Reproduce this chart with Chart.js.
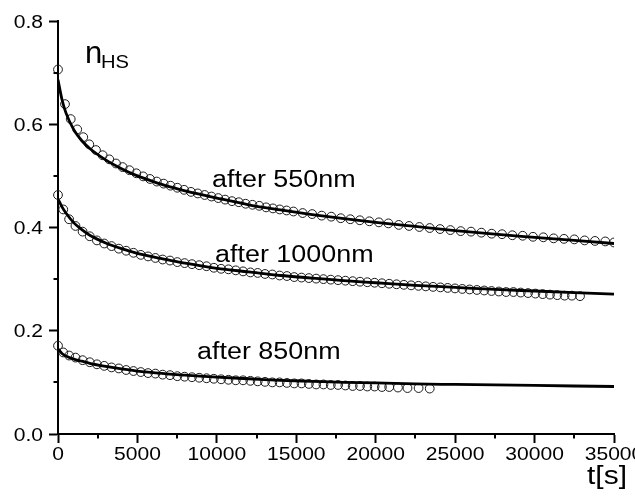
<!DOCTYPE html>
<html>
<head>
<meta charset="utf-8">
<script src="https://cdn.jsdelivr.net/npm/chart.js@4/dist/chart.umd.min.js"></script>
<style>
  html, body { margin: 0; padding: 0; background: #fff; }
  #wrap { width: 635px; height: 504px; }
</style>
</head>
<body>
<div id="wrap"><canvas id="c" width="635" height="504"></canvas></div>
<script>
// ── Data ──────────────────────────────────────────────────────────────────────
const t550 = [0, 440, 800, 1210, 1590, 1970, 2390, 2810, 3230, 3650, 4070, 4500, 4930, 5360, 5790, 6220, 6650, 7080, 7510, 7940, 8370, 8800, 9230, 9660, 10090, 10520, 10950, 11380, 11810, 12240, 12670, 13100, 13530, 13960, 14390, 14820, 15400, 16000, 16600, 17200, 17800, 18400, 19000, 19600, 20200, 20800, 21450, 22100, 22750, 23400, 24050, 24700, 25350, 26000, 26650, 27300, 27950, 28600, 29250, 29900, 30550, 31200, 31850, 32500, 33150, 33800, 34450, 35000];
const n550 = [0.706, 0.639, 0.610, 0.590, 0.575, 0.561, 0.550, 0.540, 0.532, 0.524, 0.517, 0.511, 0.505, 0.499, 0.494, 0.489, 0.485, 0.481, 0.477, 0.473, 0.469, 0.466, 0.463, 0.460, 0.457, 0.454, 0.451, 0.449, 0.446, 0.444, 0.442, 0.439, 0.437, 0.435, 0.433, 0.431, 0.428, 0.426, 0.423, 0.421, 0.418, 0.416, 0.414, 0.412, 0.410, 0.408, 0.405, 0.403, 0.401, 0.399, 0.397, 0.395, 0.393, 0.392, 0.390, 0.388, 0.387, 0.385, 0.384, 0.382, 0.381, 0.379, 0.378, 0.377, 0.375, 0.374, 0.373, 0.371];

const t1000 = [0, 330, 700, 1100, 1550, 2000, 2450, 2910, 3370, 3830, 4290, 4750, 5210, 5670, 6130, 6590, 7050, 7510, 7970, 8430, 8890, 9350, 9810, 10270, 10730, 11190, 11650, 12110, 12570, 13030, 13490, 13950, 14410, 14870, 15330, 15790, 16250, 16710, 17170, 17630, 18090, 18550, 19010, 19470, 19930, 20390, 20850, 21310, 21770, 22230, 22690, 23150, 23610, 24070, 24530, 24990, 25450, 25910, 26370, 26830, 27290, 27750, 28210, 28670, 29130, 29590, 30050, 30510, 30970, 31430, 31890, 32350, 32860];
const n1000 = [0.463, 0.435, 0.416, 0.403, 0.392, 0.383, 0.375, 0.369, 0.364, 0.359, 0.355, 0.351, 0.347, 0.344, 0.341, 0.338, 0.336, 0.333, 0.331, 0.329, 0.327, 0.325, 0.322, 0.320, 0.319, 0.317, 0.315, 0.313, 0.312, 0.310, 0.309, 0.307, 0.306, 0.304, 0.303, 0.302, 0.301, 0.300, 0.299, 0.298, 0.297, 0.296, 0.295, 0.294, 0.293, 0.292, 0.291, 0.290, 0.289, 0.288, 0.287, 0.286, 0.285, 0.284, 0.283, 0.282, 0.281, 0.280, 0.279, 0.278, 0.277, 0.276, 0.275, 0.275, 0.274, 0.273, 0.272, 0.271, 0.270, 0.269, 0.268, 0.268, 0.267];

const t850 = [0, 330, 700, 1100, 1550, 2000, 2450, 2910, 3370, 3830, 4290, 4750, 5210, 5670, 6130, 6590, 7050, 7510, 7970, 8430, 8890, 9350, 9810, 10270, 10730, 11190, 11650, 12110, 12570, 13030, 13490, 13950, 14410, 14870, 15330, 15790, 16250, 16710, 17170, 17630, 18090, 18550, 19010, 19470, 19930, 20390, 20850, 21400, 22000, 22700, 23400];
const n850 = [0.171, 0.158, 0.152, 0.148, 0.143, 0.139, 0.135, 0.132, 0.129, 0.127, 0.124, 0.122, 0.120, 0.118, 0.117, 0.115, 0.114, 0.112, 0.111, 0.110, 0.109, 0.108, 0.107, 0.106, 0.105, 0.104, 0.104, 0.103, 0.102, 0.101, 0.100, 0.100, 0.099, 0.098, 0.098, 0.097, 0.096, 0.096, 0.095, 0.095, 0.094, 0.093, 0.093, 0.092, 0.092, 0.091, 0.091, 0.090, 0.089, 0.089, 0.088];

// fitted curves
const tFit = [0, 250, 500, 1000, 1500, 2000, 3000, 4000, 5000, 6000, 7000, 8000, 10000, 12000, 14000, 16000, 18000, 20000, 22500, 25000, 27500, 30000, 32500, 35000];
const fit550 = [0.686, 0.648, 0.622, 0.589, 0.568, 0.553, 0.531, 0.514, 0.500, 0.489, 0.479, 0.471, 0.457, 0.444, 0.434, 0.425, 0.417, 0.410, 0.402, 0.394, 0.387, 0.381, 0.375, 0.369];
const fit1000 = [0.455, 0.440, 0.428, 0.409, 0.396, 0.385, 0.370, 0.359, 0.350, 0.343, 0.337, 0.331, 0.321, 0.314, 0.307, 0.302, 0.297, 0.293, 0.288, 0.284, 0.280, 0.277, 0.274, 0.271];
const fit850 = [0.165, 0.156, 0.151, 0.145, 0.141, 0.137, 0.131, 0.126, 0.122, 0.119, 0.116, 0.114, 0.110, 0.107, 0.104, 0.102, 0.100, 0.099, 0.097, 0.096, 0.095, 0.094, 0.093, 0.092];

const curveLabels = ['after 550nm', 'after 1000nm', 'after 850nm'];
const xTitle = 't[s]';

// ── Helpers ───────────────────────────────────────────────────────────────────
const FONT = 'Arial, "Liberation Sans", sans-serif';
const SX = 1.17; // the original lettering is a bit wider than Arial
const pts = (xs, ys) => xs.map((x, i) => ({ x, y: ys[i] }));

function circles(xs, ys) {
  return {
    type: 'scatter', data: pts(xs, ys), showLine: false, order: 2,
    pointRadius: 4.4, pointBorderWidth: 1, pointBorderColor: '#1a1a1a',
    pointBackgroundColor: 'rgba(0,0,0,0)', clip: { left: 6, top: 6, right: 0, bottom: 0 },
  };
}
function fitLine(ys) {
  return {
    type: 'line', data: pts(tFit, ys), showLine: true, order: 1,
    borderColor: '#000', borderWidth: 2.8, pointRadius: 0,
    cubicInterpolationMode: 'monotone', fill: false,
  };
}

// horizontally stretched text; align 'left' | 'center' | 'right'
function text(ctx, str, x, y, size, sx, align = 'left') {
  ctx.save();
  ctx.font = `${size}px ${FONT}`;
  const w = ctx.measureText(str).width * sx;
  const x0 = align === 'center' ? x - w / 2 : align === 'right' ? x - w : x;
  ctx.translate(x0, y);
  ctx.scale(sx, 1);
  ctx.fillStyle = '#000';
  ctx.textBaseline = 'alphabetic';
  ctx.textAlign = 'left';
  ctx.fillText(str, 0, 0);
  ctx.restore();
}

const decor = {
  id: 'decor',
  afterDraw(chart) {
    const { ctx, scales: { x, y } } = chart;
    ctx.save();
    ctx.strokeStyle = '#000';
    ctx.lineWidth = 2;
    // minor ticks
    [0.1, 0.3, 0.5, 0.7].forEach(v => {
      const py = Math.round(y.getPixelForValue(v));
      ctx.beginPath(); ctx.moveTo(y.right - 4.5, py); ctx.lineTo(y.right, py); ctx.stroke();
    });
    [2500, 7500, 12500, 17500, 22500, 27500, 32500].forEach(v => {
      const px = Math.round(x.getPixelForValue(v));
      ctx.beginPath(); ctx.moveTo(px, x.top); ctx.lineTo(px, x.top + 4.5); ctx.stroke();
    });
    ctx.restore();

    // tick labels
    y.ticks.forEach((t, i) => {
      if (t.label) text(ctx, t.label, y.right - 15, y.getPixelForTick(i) + 6.5, 18, SX, 'right');
    });
    x.ticks.forEach((t, i) => {
      if (t.label) text(ctx, t.label, x.getPixelForTick(i), x.top + 26, 18, SX, 'center');
    });

    text(ctx, 'n', 85, 63, 31, 1.0);
    text(ctx, 'HS', 101, 68, 18, 1.12);
    text(ctx, curveLabels[0], 212, 187, 23, SX);
    text(ctx, curveLabels[1], 215, 262, 23, SX);
    text(ctx, curveLabels[2], 197, 359, 23, SX);
    text(ctx, xTitle, 627, 484, 25, 1.2, 'right');
  },
};

// ── Chart ─────────────────────────────────────────────────────────────────────
Chart.defaults.font.family = FONT;
Chart.defaults.color = '#000';

new Chart(document.getElementById('c'), {
  type: 'scatter',
  data: {
    datasets: [
      fitLine(fit550), fitLine(fit1000), fitLine(fit850),
      circles(t550, n550), circles(t1000, n1000), circles(t850, n850),
    ],
  },
  options: {
    responsive: false,
    animation: false,
    layout: { padding: { top: 21, right: 21, left: 0, bottom: 0 } },
    plugins: { legend: { display: false }, tooltip: { enabled: false } },
    scales: {
      x: {
        type: 'linear', min: 0, max: 35000,
        afterFit(s) { s.height = 70; s.paddingLeft = 0; s.paddingRight = 0; },
        ticks: {
          stepSize: 2500, autoSkip: false, maxRotation: 0, padding: 3,
          font: { size: 18 }, color: 'rgba(0,0,0,0)',
          callback: v => (Math.round(v) % 5000 === 0 ? String(Math.round(v)) : ''),
        },
        grid: {
          drawOnChartArea: false, tickLength: 9, tickWidth: 2,
          tickColor: c => (c.tick && Math.round(c.tick.value) % 5000 === 0 ? '#000' : 'rgba(0,0,0,0)'),
        },
        border: { color: '#000', width: 2 },
      },
      y: {
        min: 0, max: 0.8,
        afterFit(s) { s.width = 58; s.paddingTop = 0; s.paddingBottom = 0; },
        ticks: {
          stepSize: 0.1, autoSkip: false, padding: 6,
          font: { size: 18 }, color: 'rgba(0,0,0,0)',
          callback: v => (Math.round(v * 10) % 2 === 0 ? v.toFixed(1) : ''),
        },
        grid: {
          drawOnChartArea: false, tickLength: 9, tickWidth: 2,
          tickColor: c => (c.tick && Math.round(c.tick.value * 10) % 2 === 0 ? '#000' : 'rgba(0,0,0,0)'),
        },
        border: { color: '#000', width: 2 },
      },
    },
  },
  plugins: [decor],
});
</script>
</body>
</html>
